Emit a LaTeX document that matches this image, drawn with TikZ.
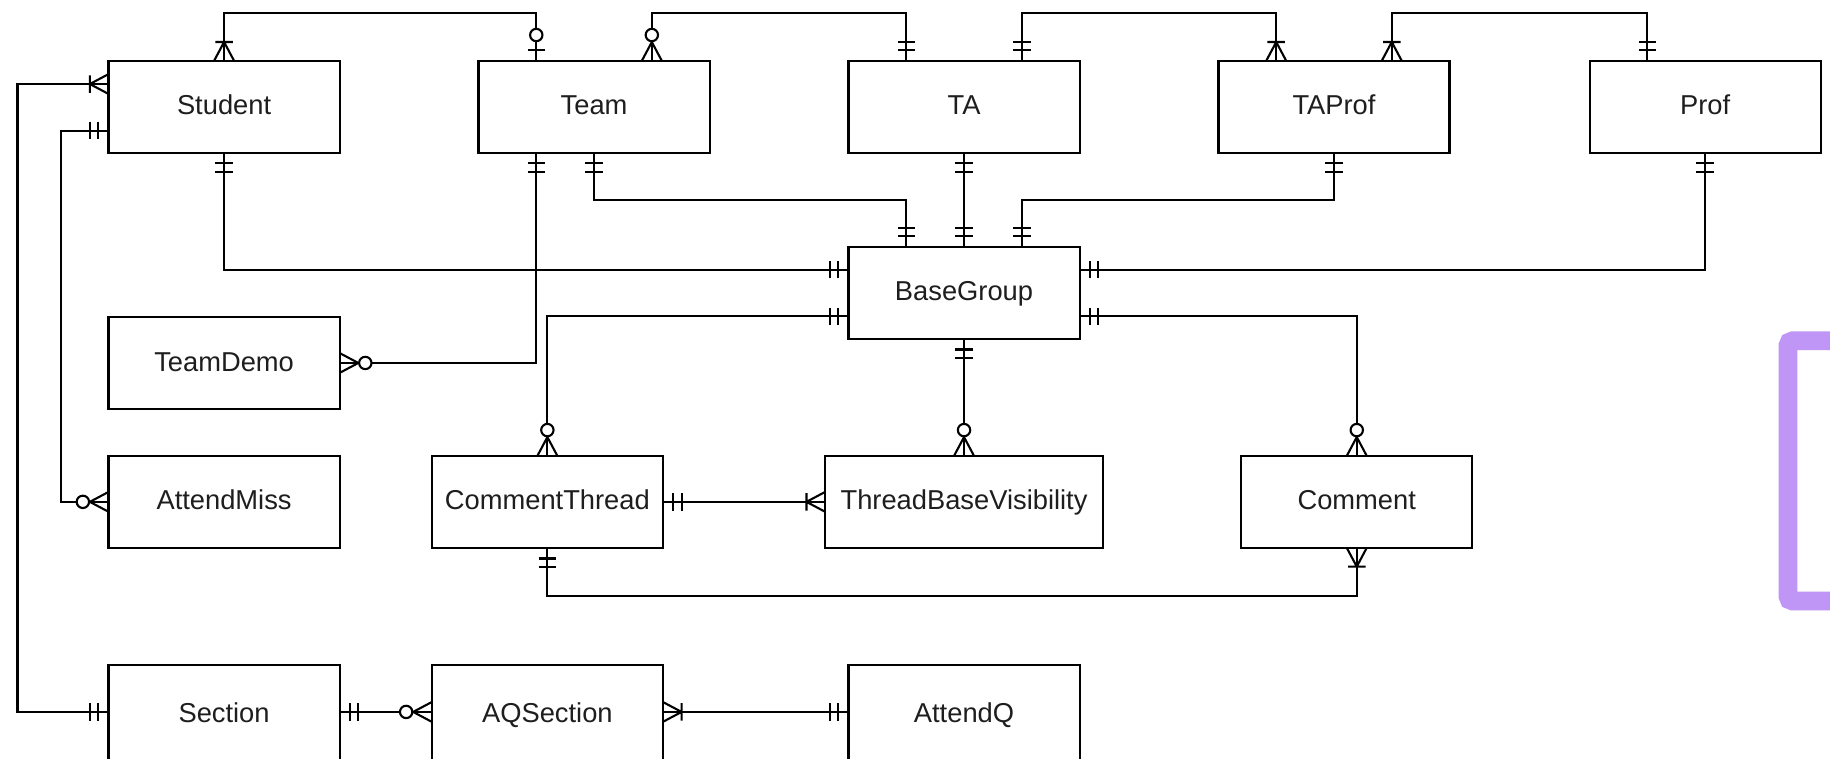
\documentclass[tikz,border=0pt]{standalone}
\usepackage{fontspec}
\setmainfont{Liberation Sans}
\usetikzlibrary{calc}
\definecolor{purp}{RGB}{191,150,245}
\definecolor{ink}{RGB}{30,30,30}
\tikzset{
  ent/.style={draw=black, line width=1.8pt, minimum width=198pt, minimum height=79pt,
    inner sep=0pt, outer sep=0pt, text=ink, text height=18pt, text depth=4.2pt,
    font=\fontsize{23.4}{28}\selectfont},
  low/.style={minimum height=84pt},
  conn/.style={draw=black, line width=1.8pt},
  mone/.pic={\draw[conn] (9,-7.5)--(9,7.5) (16,-7.5)--(16,7.5);},
  zone/.pic={\draw[conn] (9,-7.5)--(9,7.5); \draw[conn,fill=white] (22,0) circle[radius=5.3pt];},
  zmany/.pic={\draw[conn] (0,-8.5)--(16,0)--(0,8.5); \draw[conn,fill=white] (22,0) circle[radius=5.3pt];},
  omany/.pic={\draw[conn] (0,-8.5)--(16,0)--(0,8.5) (16,-7.5)--(16,7.5);},
}
\begin{document}
\begin{tikzpicture}[x=1pt,y=1pt]
\useasboundingbox (0,0) rectangle (1568,-650);
\clip (0,0) rectangle (1568,-650);
\fill[white] (0,0) rectangle (1568,-650);

% entities
\node[ent] (student) at (192,-91.5) {Student};
\node[ent] (team) at (509,-91.5) {Team};
\node[ent] (ta) at (826,-91.5) {TA};
\node[ent] (taprof) at (1143,-91.5) {TAProf};
\node[ent] (prof) at (1461,-91.5) {Prof};
\node[ent] (basegroup) at (826,-251) {BaseGroup};
\node[ent] (teamdemo) at (192,-311) {TeamDemo};
\node[ent] (attendmiss) at (192,-430) {AttendMiss};
\node[ent] (commentthread) at (469,-430) {CommentThread};
\node[ent, minimum width=238pt] (tbv) at (826,-430) {ThreadBaseVisibility};
\node[ent] (comment) at (1162.5,-430) {Comment};
\node[ent,low] (section) at (192,-612) {Section};
\node[ent,low] (aqsection) at (469,-612) {AQSection};
\node[ent,low] (attendq) at (826,-612) {AttendQ};

% connectors
\draw[conn] (student.north) -- ++(0,40.5) -| ([xshift=-49.5pt]team.north);
\draw[conn] ([xshift=49.5pt]team.north) -- ++(0,40.5) -| ([xshift=-49.5pt]ta.north);
\draw[conn] ([xshift=49.5pt]ta.north) -- ++(0,40.5) -| ([xshift=-49.5pt]taprof.north);
\draw[conn] ([xshift=49.5pt]taprof.north) -- ++(0,40.5) -| ([xshift=-49.5pt]prof.north);
\draw[conn] (student.south) |- ([yshift=20pt]basegroup.west);
\draw[conn] ([xshift=-49.5pt]team.south) |- (teamdemo.east);
\draw[conn] (team.south) -- ++(0,-40) -| ([xshift=-49.5pt]basegroup.north);
\draw[conn] (ta.south) -- (basegroup.north);
\draw[conn] (taprof.south) -- ++(0,-40) -| ([xshift=49.5pt]basegroup.north);
\draw[conn] (prof.south) |- ([yshift=20pt]basegroup.east);
\draw[conn] ([yshift=-20pt]basegroup.west) -| (commentthread.north);
\draw[conn] (basegroup.south) -- (tbv.north);
\draw[conn] ([yshift=-20pt]basegroup.east) -| (comment.north);
\draw[conn] (commentthread.east) -- (tbv.west);
\draw[conn] (commentthread.south) -- ++(0,-41) -| (comment.south);
\draw[conn] ([yshift=19.5pt]student.west) -- ++(-78,0) |- ([yshift=2pt]section.west);
\draw[conn] ([yshift=-20.5pt]student.west) -- ++(-41,0) |- (attendmiss.west);
\draw[conn] ([yshift=2pt]section.east) -- ([yshift=2pt]aqsection.west);
\draw[conn] ([yshift=2pt]aqsection.east) -- ([yshift=2pt]attendq.west);

% end markers
\pic[rotate=90] at (student.north) {omany};
\pic[rotate=90] at ([xshift=-49.5pt]team.north) {zone};
\pic[rotate=90] at ([xshift=49.5pt]team.north) {zmany};
\pic[rotate=90] at ([xshift=-49.5pt]ta.north) {mone};
\pic[rotate=90] at ([xshift=49.5pt]ta.north) {mone};
\pic[rotate=90] at ([xshift=-49.5pt]taprof.north) {omany};
\pic[rotate=90] at ([xshift=49.5pt]taprof.north) {omany};
\pic[rotate=90] at ([xshift=-49.5pt]prof.north) {mone};

\pic[rotate=-90] at (student.south) {mone};
\pic[rotate=-90] at ([xshift=-49.5pt]team.south) {mone};
\pic[rotate=-90] at (team.south) {mone};
\pic[rotate=-90] at (ta.south) {mone};
\pic[rotate=-90] at (taprof.south) {mone};
\pic[rotate=-90] at (prof.south) {mone};

\pic[rotate=90] at ([xshift=-49.5pt]basegroup.north) {mone};
\pic[rotate=90] at (basegroup.north) {mone};
\pic[rotate=90] at ([xshift=49.5pt]basegroup.north) {mone};
\pic[rotate=180] at ([yshift=20pt]basegroup.west) {mone};
\pic[rotate=180] at ([yshift=-20pt]basegroup.west) {mone};
\pic at ([yshift=20pt]basegroup.east) {mone};
\pic at ([yshift=-20pt]basegroup.east) {mone};
\pic[rotate=-90] at (basegroup.south) {mone};

\pic at (teamdemo.east) {zmany};
\pic[rotate=90] at (commentthread.north) {zmany};
\pic[rotate=90] at (tbv.north) {zmany};
\pic[rotate=90] at (comment.north) {zmany};
\pic at (commentthread.east) {mone};
\pic[rotate=180] at (tbv.west) {omany};
\pic[rotate=-90] at (commentthread.south) {mone};
\pic[rotate=-90] at (comment.south) {omany};

\pic[rotate=180] at ([yshift=19.5pt]student.west) {omany};
\pic[rotate=180] at ([yshift=-20.5pt]student.west) {mone};
\pic[rotate=180] at ([yshift=2pt]section.west) {mone};
\pic[rotate=180] at (attendmiss.west) {zmany};
\pic at ([yshift=2pt]section.east) {mone};
\pic[rotate=180] at ([yshift=2pt]aqsection.west) {zmany};
\pic at ([yshift=2pt]aqsection.east) {omany};
\pic[rotate=180] at ([yshift=2pt]attendq.west) {mone};

% purple frame at the right edge
\draw[purp, line width=16pt, rounded corners=4pt] (1532,-292) rectangle (1650,-515);
\end{tikzpicture}
\end{document}
